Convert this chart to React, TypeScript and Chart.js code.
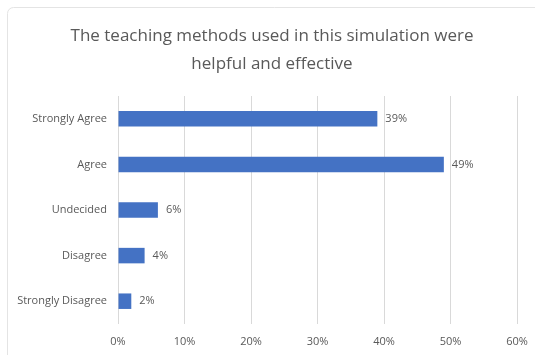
import React, { useEffect, useRef } from "react";
import { Chart, registerables } from "chart.js";

Chart.register(...registerables);

const titleLines = ["The teaching methods used in this simulation were", "helpful and effective"];
const categories = ["Strongly Agree", "Agree", "Undecided", "Disagree", "Strongly Disagree"];
const percentages = [39, 49, 6, 4, 2];
const axisMax = 60;
const axisStep = 10;

const TEXT_GRAY = "#595959";
const GRID_GRAY = "#d9d9d9";
const BAR_BLUE = "#4472c4";
const FONT = "'Open Sans', 'Liberation Sans', sans-serif";

// Frame around the chart and the two-line centred heading
const framePlugin = {
  id: "frameAndHeading",
  beforeDraw(chart: Chart) {
    const { ctx, width } = chart;
    ctx.save();
    ctx.fillStyle = "#ffffff";
    ctx.fillRect(0, 0, chart.width, chart.height);
    ctx.strokeStyle = "#e4e4e4";
    ctx.lineWidth = 1;
    ctx.beginPath();
    ctx.roundRect(7.5, 7.5, width + 20, chart.height + 20, 6);
    ctx.stroke();
    ctx.fillStyle = TEXT_GRAY;
    ctx.font = `17px ${FONT}`;
    ctx.textAlign = "center";
    ctx.textBaseline = "middle";
    const cx = 272;
    titleLines.forEach((line, i) => ctx.fillText(line, cx, 36 + i * 28));
    ctx.restore();
  },
};

// Percentage labels just past the end of each bar
const valueLabelPlugin = {
  id: "valueLabels",
  afterDatasetsDraw(chart: Chart) {
    const { ctx } = chart;
    const meta = chart.getDatasetMeta(0);
    ctx.save();
    ctx.fillStyle = TEXT_GRAY;
    ctx.font = `11px ${FONT}`;
    ctx.textAlign = "left";
    ctx.textBaseline = "middle";
    meta.data.forEach((bar: any, i: number) => {
      ctx.fillText(`${percentages[i]}%`, bar.x + 8, bar.y);
    });
    ctx.restore();
  },
};

export default function App() {
  const canvasRef = useRef<HTMLCanvasElement | null>(null);

  useEffect(() => {
    document.body.style.margin = "0";
    const canvas = canvasRef.current;
    if (!canvas) return;
    const chart = new Chart(canvas, {
      type: "bar",
      data: {
        labels: categories,
        datasets: [
          {
            data: percentages,
            backgroundColor: BAR_BLUE,
            borderWidth: 0,
            barPercentage: 0.34,
            categoryPercentage: 1,
          },
        ],
      },
      options: {
        indexAxis: "y",
        animation: false,
        responsive: false,
        devicePixelRatio: 1,
        layout: { padding: { top: 96, right: 18, bottom: 0, left: 0 } },
        plugins: {
          legend: { display: false },
          tooltip: { enabled: false },
          title: { display: false },
        },
        scales: {
          x: {
            min: 0,
            max: axisMax,
            ticks: {
              stepSize: axisStep,
              padding: 11,
              color: TEXT_GRAY,
              font: { family: FONT, size: 11 },
              callback: (v: any) => `${v}%`,
            },
            grid: { color: GRID_GRAY, drawTicks: false },
            border: { display: false },
            afterFit: (scale: any) => {
              scale.height = 31;
              scale.paddingLeft = 0;
              scale.paddingRight = 0;
            },
          },
          y: {
            ticks: {
              padding: 11,
              color: TEXT_GRAY,
              font: { family: FONT, size: 11 },
            },
            grid: { display: false, drawTicks: false },
            border: { display: false },
            afterFit: (scale: any) => {
              scale.width = 118;
            },
          },
        },
      },
      plugins: [framePlugin, valueLabelPlugin],
    });
    return () => chart.destroy();
  }, []);

  return <canvas ref={canvasRef} width={535} height={355} style={{ display: "block" }} />;
}
